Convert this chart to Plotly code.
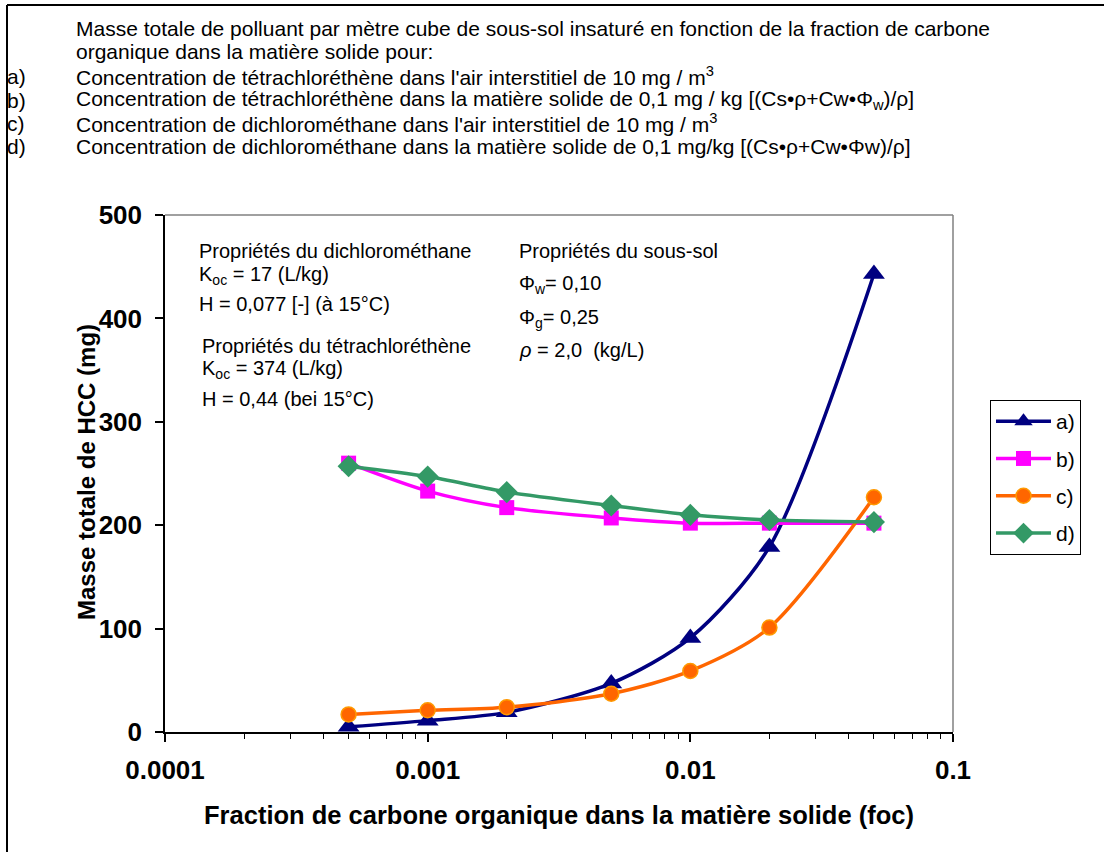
import plotly.graph_objects as go

foc = [0.0005, 0.001, 0.002, 0.005, 0.01, 0.02, 0.05]
serie_a = [5, 11, 19, 47, 91, 179, 443]
serie_b = [260, 233, 217, 207, 202, 202, 202]
serie_c = [17, 21, 24, 37, 59, 101, 227]
serie_d = [257, 247, 232, 219, 210, 205, 203]
names = ["a)", "b)", "c)", "d)"]

x_tickvals = [0.0001, 0.001, 0.01, 0.1]
x_ticktext = ["0.0001", "0.001", "0.01", "0.1"]
minor_vals = [m * d for d in [0.0001, 0.001, 0.01] for m in range(2, 10)]

title_lines = [
    ("", "Masse totale de polluant par mètre cube de sous-sol insaturé en fonction de la fraction de carbone"),
    ("", "organique dans la matière solide pour:"),
    ("a)", "Concentration de tétrachloréthène dans l'air interstitiel de 10 mg / m<sup>3</sup>"),
    ("b)", "Concentration de tétrachloréthène dans la matière solide de 0,1 mg / kg [(Cs•ρ+Cw•Φ<sub>w</sub>)/ρ]"),
    ("c)", "Concentration de dichlorométhane dans l'air interstitiel de 10 mg / m<sup>3</sup>"),
    ("d)", "Concentration de dichlorométhane dans la matière solide de 0,1 mg/kg [(Cs•ρ+Cw•Φw)/ρ]"),
]

W, H = 1104, 852
L, R, T, B = 165, 953, 215, 732
FONT = "Liberation Sans, Arial, sans-serif"


def px(xp):
    return (xp - L) / (R - L)


def py(yp):
    return (B - yp) / (B - T)


fig = go.Figure()

styles = [
    dict(color="#000080", symbol="triangle-up", size=19, lc="#000080", lw=0),
    dict(color="#FF00FF", symbol="square", size=15, lc="#FF00FF", lw=0),
    dict(color="#FF6600", symbol="circle", size=15, lc="#FF9900", lw=1.5),
    dict(color="#339966", symbol="diamond", size=17, lc="#339966", lw=0),
]
for i, (name, ys) in enumerate(zip(names, [serie_a, serie_b, serie_c, serie_d])):
    s = styles[i]
    fig.add_trace(go.Scatter(
        x=foc, y=ys, name=name, mode="lines+markers",
        legendgroup=name,
        line=dict(color=s["color"], width=3.5, shape="spline", smoothing=0.8),
        marker=dict(symbol=s["symbol"], size=s["size"], color=s["color"],
                    line=dict(color=s["lc"], width=s["lw"])),
    ))

annotations = []
title_y = [28, 52, 76, 100, 123, 147]
for (lab, txt), yy in zip(title_lines, title_y):
    if lab:
        annotations.append(dict(x=px(5), y=py(yy), xref="paper", yref="paper", text=lab,
                                showarrow=False, xanchor="left", yanchor="middle",
                                font=dict(family=FONT, size=21, color="black")))
    annotations.append(dict(x=px(74), y=py(yy), xref="paper", yref="paper", text=txt,
                            showarrow=False, xanchor="left", yanchor="middle",
                            font=dict(family=FONT, size=21, color="black")))

inner = [
    (197, 251, "Propriétés du dichlorométhane"),
    (197, 275, "K<sub>oc</sub> = 17 (L/kg)"),
    (197, 304, "H = 0,077 [-] (à 15°C)"),
    (200, 346, "Propriétés du tétrachloréthène"),
    (200, 369, "K<sub>oc</sub> = 374 (L/kg)"),
    (200, 399, "H = 0,44 (bei 15°C)"),
    (517, 251, "Propriétés du sous-sol"),
    (517, 284, "Φ<sub>w</sub>= 0,10"),
    (517, 318, "Φ<sub>g</sub>= 0,25"),
    (517, 350, "<i>ρ</i> = 2,0  (kg/L)"),
]
for xx, yy, txt in inner:
    annotations.append(dict(x=px(xx), y=py(yy), xref="paper", yref="paper", text=txt,
                            showarrow=False, xanchor="left", yanchor="middle",
                            font=dict(family=FONT, size=20, color="black")))

annotations.append(dict(x=px(86), y=py(472), xref="paper", yref="paper",
                        text="<b>Masse totale de HCC (mg)</b>", textangle=-90,
                        showarrow=False, xanchor="center", yanchor="middle",
                        font=dict(family=FONT, size=24, color="black")))

shapes = [
    dict(type="line", xref="paper", yref="paper", x0=0, x1=1, y0=1, y1=1,
         line=dict(color="#808080", width=1.5)),
    dict(type="line", xref="paper", yref="paper", x0=1, x1=1, y0=0, y1=1,
         line=dict(color="#808080", width=1.5)),
    dict(type="line", xref="paper", yref="paper", x0=px(7), x1=px(1104), y0=py(5), y1=py(5),
         line=dict(color="black", width=2)),
    dict(type="line", xref="paper", yref="paper", x0=px(7), x1=px(7), y0=py(5), y1=py(852),
         line=dict(color="black", width=2)),
]

fig.update_layout(
    width=W, height=H,
    margin=dict(l=L, r=W - R, t=T, b=H - B, pad=0),
    paper_bgcolor="white", plot_bgcolor="white",
    font=dict(family=FONT, color="black"),
    showlegend=True,
    legend=dict(x=px(990), y=py(400), xanchor="left", yanchor="top",
                bordercolor="black", borderwidth=1, bgcolor="white",
                font=dict(family=FONT, size=21, color="black"),
                tracegroupgap=7, itemwidth=55),
    annotations=annotations,
    shapes=shapes,
    xaxis=dict(
        type="log", range=[-4, -1],
        tickvals=x_tickvals, ticktext=x_ticktext,
        ticks="outside", ticklen=8, tickwidth=1.5, tickcolor="black",
        minor=dict(tickvals=minor_vals, ticks="outside", ticklen=5, tickwidth=1, tickcolor="black"),
        showline=True, linecolor="black", linewidth=1.5,
        showgrid=False, zeroline=False,
        tickfont=dict(family=FONT, size=26, color="black", weight="bold"),
        ticklabelstandoff=6,
        title=dict(text="<b>Fraction de carbone organique dans la matière solide (foc)</b>",
                   font=dict(family=FONT, size=25.5, color="black"), standoff=22),
    ),
    yaxis=dict(
        range=[0, 500], dtick=100,
        ticks="outside", ticklen=8, tickwidth=1.5, tickcolor="black",
        showline=True, linecolor="black", linewidth=1.5,
        showgrid=False, zeroline=False,
        tickfont=dict(family=FONT, size=26, color="black", weight="bold"),
        ticklabelstandoff=8,
    ),
)

fig.write_html("out.html")
